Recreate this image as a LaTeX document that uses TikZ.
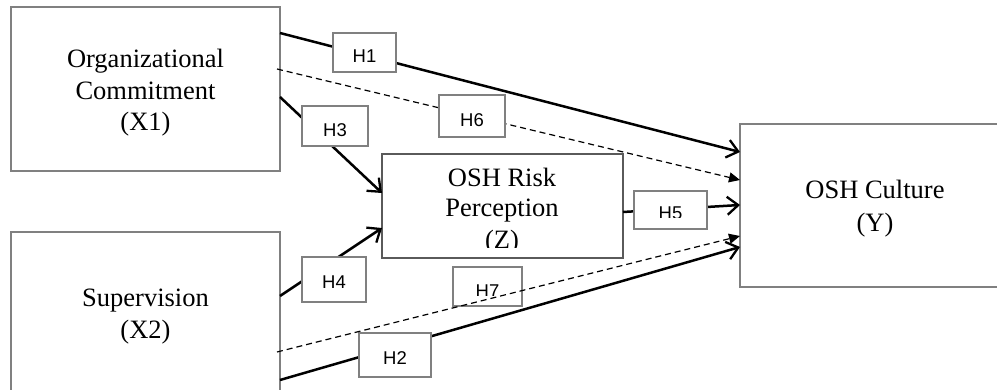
\documentclass[tikz,border=0pt]{standalone}
\usepackage{fontspec}
\setmainfont{Liberation Serif}
\setsansfont{Liberation Sans}
\usetikzlibrary{arrows.meta}
\definecolor{boxgray}{RGB}{128,128,128}
\definecolor{zgray}{RGB}{90,90,90}
\begin{document}
\begin{tikzpicture}[x=1pt,y=-1pt,
  bigbox/.style={draw=boxgray, line width=1.2pt, fill=white, inner sep=0pt, outer sep=0pt, anchor=north west},
  hbox/.style={draw=boxgray, line width=1.1pt, fill=white, inner sep=0pt, outer sep=0pt, minimum width=#1},
  bigtxt/.style={anchor=base, inner sep=0pt, font=\fontsize{26.5}{31}\selectfont},
  htxt/.style={anchor=base, inner sep=0pt, font=\sffamily\fontsize{18.5}{20}\selectfont},
  solidarr/.style={line width=2.5pt, -{Straight Barb[length=11pt,width=18pt,line width=2.3pt]}},
  dasharr/.style={line width=1.2pt, dash pattern=on 6pt off 4pt, -{Triangle[length=11pt,width=10pt]}},
  solidln/.style={line width=2.5pt}
]
\path[use as bounding box, clip] (0,0) rectangle (997,390);

% main boxes
\node[bigbox, minimum width=269pt, minimum height=164pt] (x1) at (11,7) {};
\node[bigbox, minimum width=269pt, minimum height=175pt] (x2) at (11,232) {};
\node[bigbox, draw=zgray, minimum width=241pt, minimum height=104pt] (z) at (382,154) {};
\node[bigbox, minimum width=275pt, minimum height=163pt] (y) at (740,124) {};

% texts
\node[bigtxt] (x1a) at (145.5,68) {Organizational};
\node[bigtxt] (x1b) at (145.5,100) {Commitment};
\node[bigtxt] (x1c) at (145.5,131) {(X1)};
\node[bigtxt] (x2a) at (145.5,307) {Supervision};
\node[bigtxt] (x2b) at (145.5,338) {(X2)};
\begin{scope}
  \clip (383,155) rectangle (622,248);
  \node[bigtxt] (za) at (502,187) {OSH Risk};
  \node[bigtxt] (zb) at (502,217) {Perception};
  \node[bigtxt] (zc) at (502,249) {(Z)};
\end{scope}
\node[bigtxt] (ya) at (875,199) {OSH Culture};
\node[bigtxt] (yb) at (875,232) {(Y)};

% connectors (under labels)
\draw[solidarr] (x1.east |- 0,33) -- (y.west |- 0,152);
\draw[dasharr] (277,69) coordinate (x1d) -- (y.west |- 0,180);
\draw[solidarr] (x1.east |- 0,97) -- (z.west |- 0,193);
\draw[solidarr] (x2.east |- 0,296) -- (z.west |- 0,228);
\draw[solidarr] (z.east |- 0,212) -- (y.west |- 0,205);
\draw[solidarr] (x2.east |- 0,380) -- (y.west |- 0,247);

% hypothesis labels
\node[hbox=63pt, minimum height=39pt] (h1) at (364.5,52.5) {};
\node[htxt] (h1t) at (h1.center |- 0,63) {H1};
\node[hbox=66pt, minimum height=42pt] (h6) at (472,116) {};
\node[htxt] (h6t) at (h6.center |- 0,127) {H6};
\node[hbox=66pt, minimum height=40pt] (h3) at (335,126) {};
\node[htxt] (h3t) at (h3.center |- 0,137) {H3};
\node[hbox=64pt, minimum height=45pt] (h4) at (334,279.5) {};
\node[htxt] (h4t) at (h4.center |- 0,289) {H4};
\node[hbox=73pt, minimum height=38pt] (h5) at (670.5,210) {};
\begin{scope}
  \clip (635,192) rectangle (706,218);
  \node[htxt] (h5t) at (h5.center |- 0,219.5) {H5};
\end{scope}
\node[hbox=69pt, minimum height=39pt] (h7) at (487.5,286.5) {};
\begin{scope}
  \clip (454,268) rectangle (521,296);
  \node[htxt] (h7t) at (h7.center |- 0,298) {H7};
\end{scope}
\node[hbox=72pt, minimum height=44pt] (h2) at (395,355) {};
\node[htxt] (h2t) at (h2.center |- 0,365) {H2};

% H7 dashed line drawn over its label
\draw[dasharr] (277,352) coordinate (x2d) -- (y.west |- 0,236);
\end{tikzpicture}
\end{document}
